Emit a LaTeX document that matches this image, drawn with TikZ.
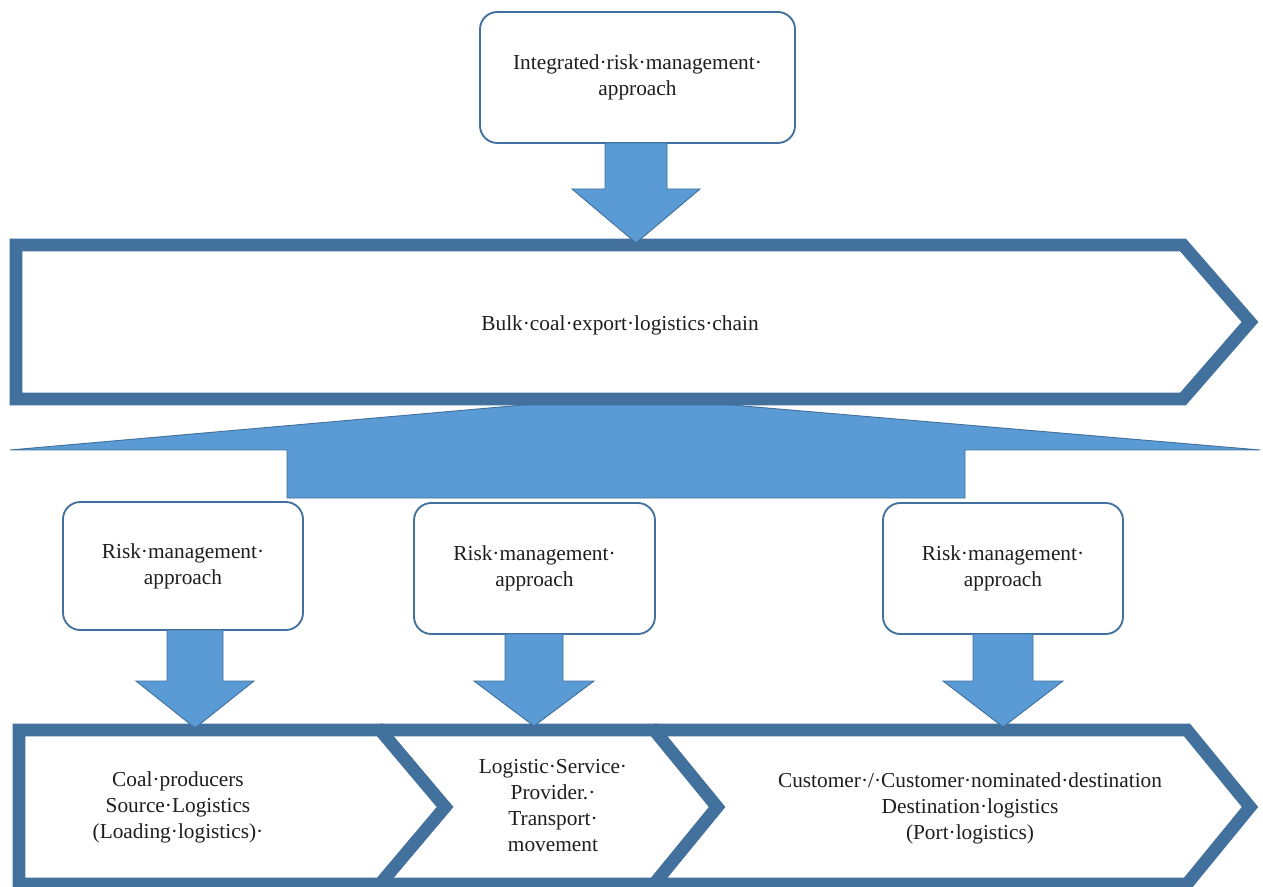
\documentclass[tikz,border=0pt]{standalone}
\usepackage{fontspec}
\setmainfont{Liberation Serif}
\definecolor{edgeblue}{HTML}{41719C}
\definecolor{fillblue}{HTML}{5B9BD5}
\definecolor{inkgray}{HTML}{1E1E1E}

% Downward block arrow: #1 centre x, #2 top y, #3 y where the head starts,
% #4 tip y, #5 shaft half-width, #6 head half-width
\newcommand\blockdown[6]{%
  \filldraw[blockfill] (#1-#5,#2) -- (#1+#5,#2) -- (#1+#5,#3) -- (#1+#6,#3)
    -- (#1,#4) -- (#1-#6,#3) -- (#1-#5,#3) -- cycle;}

\begin{document}
\begin{tikzpicture}[x=0.75pt,y=-0.75pt,
  rbox/.style={draw=edgeblue, line width=1.4pt, fill=white, rounded corners=13pt,
    align=center, inner sep=0pt},
  chainshape/.style={draw=edgeblue, line width=9.5pt, fill=white, line join=miter,
    miter limit=1.7},
  blockfill/.style={fill=fillblue, draw=edgeblue, line width=0.7pt, line join=miter},
  lbl/.style={font=\fontsize{16}{19.5}\selectfont, align=center, text=inkgray}
]
\useasboundingbox[fill=white] (0,0) rectangle (1263,887);

% fan-out shape below the main chain
\filldraw[blockfill] (10,450) -- (626,396) -- (1260,450) -- (965,450) -- (965,498)
  -- (287,498) -- (287,450) -- cycle;

% main chain chevron
\draw[chainshape] (16,245) -- (1183,245) -- (1250,322) -- (1183,399) -- (16,399) -- cycle;
\node[lbl] (chain) at (620,325) {Bulk·coal·export·logistics·chain};

% top approach box and its arrow
\node[rbox, lbl, minimum width=236.25pt, minimum height=98.25pt] (integrated) at (637.5,77.5)
  {Integrated·risk·management·\\approach};
\blockdown{636}{143}{189}{243}{31}{64}

% three chain stages
\draw[chainshape] (654,730) -- (1187,730) -- (1250,807) -- (1187,884) -- (654,884) -- (717,807) -- cycle;
\draw[chainshape] (380,730) -- (654,730) -- (717,807) -- (654,884) -- (380,884) -- (445,807) -- cycle;
\draw[chainshape] (19,730) -- (380,730) -- (445,807) -- (380,884) -- (19,884) -- cycle;

\node[lbl] (source) at (178,807) {Coal·producers\\Source·Logistics\\(Loading·logistics)·};
\node[lbl] (transport) at (553,806) {Logistic·Service·\\Provider.·\\Transport·\\movement};
\node[lbl] (destination) at (970,808) {Customer·/·Customer·nominated·destination\\Destination·logistics\\(Port·logistics)};

% stage approach boxes
\node[rbox, lbl, minimum width=180pt, minimum height=96pt] (riskA) at (183,566)
  {Risk·management·\\approach};
\node[rbox, lbl, minimum width=180.75pt, minimum height=98.25pt] (riskB) at (534.5,568.5)
  {Risk·management·\\approach};
\node[rbox, lbl, minimum width=180pt, minimum height=98.25pt] (riskC) at (1003,568.5)
  {Risk·management·\\approach};

% arrows from each box down to its stage
\blockdown{195}{630}{681}{728}{28}{59}
\blockdown{534}{634}{681}{726}{29}{60}
\blockdown{1003}{634}{681}{727}{30}{60}
\end{tikzpicture}
\end{document}
